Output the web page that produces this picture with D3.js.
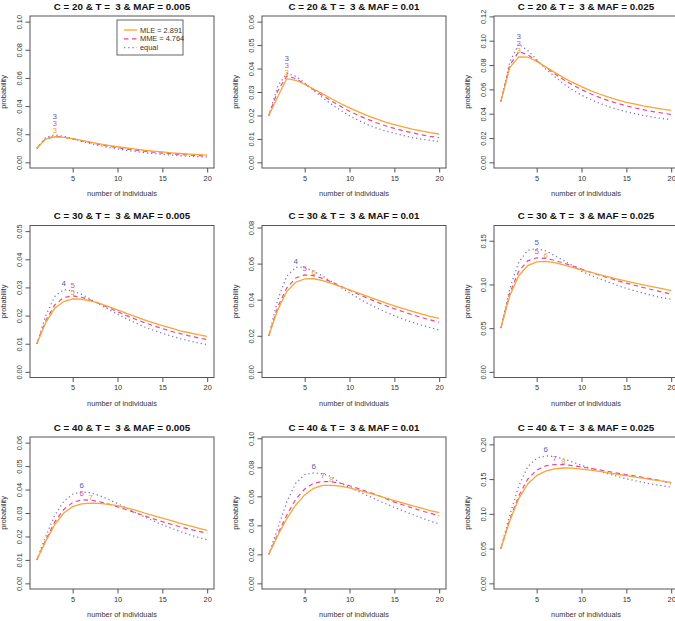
<!DOCTYPE html>
<html>
<head>
<meta charset="utf-8">
<script src="https://cdn.jsdelivr.net/npm/d3@7"></script>
<style>
  html, body { margin: 0; padding: 0; background: #fff; }
  svg { display: block; font-family: "Liberation Sans", Arial, Helvetica, sans-serif; }
  .title { white-space: pre; }
</style>
</head>
<body>
<svg id="chart" width="675" height="621"></svg>
<script>
// ---------------- DATA ----------------
const individuals = [1,2,3,4,5,6,7,8,9,10,11,12,13,14,15,16,17,18,19,20];

const titles = [
  "C = 20 & T =  3 & MAF = 0.005", "C = 20 & T =  3 & MAF = 0.01", "C = 20 & T =  3 & MAF = 0.025",
  "C = 30 & T =  3 & MAF = 0.005", "C = 30 & T =  3 & MAF = 0.01", "C = 30 & T =  3 & MAF = 0.025",
  "C = 40 & T =  3 & MAF = 0.005", "C = 40 & T =  3 & MAF = 0.01", "C = 40 & T =  3 & MAF = 0.025"
];

const yLimits = [0.10, 0.06, 0.1157, 0.05, 0.078, 0.161, 0.06, 0.097, 0.2025];

const yTicks1 = [0, 0.02, 0.04, 0.06, 0.08, 0.10];
const yTicks2 = [0, 0.01, 0.02, 0.03, 0.04, 0.05, 0.06];
const yTicks3 = [0, 0.02, 0.04, 0.06, 0.08, 0.10, 0.12];
const yTicks4 = [0, 0.01, 0.02, 0.03, 0.04, 0.05];
const yTicks5 = [0, 0.02, 0.04, 0.06, 0.08];
const yTicks6 = [0, 0.05, 0.10, 0.15];
const yTicks7 = [0, 0.01, 0.02, 0.03, 0.04, 0.05, 0.06];
const yTicks8 = [0, 0.02, 0.04, 0.06, 0.08, 0.10];
const yTicks9 = [0, 0.05, 0.10, 0.15, 0.20];
const xTicks = [5, 10, 15, 20];

const legendLabels = ["MLE = 2.891", "MME = 4.764", "equal"];

// C = 20, MAF = 0.005
const mle_20_005  = [0.0100,0.0166,0.0182,0.0178,0.0168,0.0156,0.0144,0.0132,0.0121,0.0111,0.0102,0.0094,0.0086,0.0080,0.0074,0.0068,0.0063,0.0059,0.0055,0.0051];
const mme_20_005  = [0.0100,0.0170,0.0185,0.0179,0.0167,0.0153,0.0140,0.0127,0.0115,0.0105,0.0095,0.0087,0.0079,0.0072,0.0066,0.0061,0.0056,0.0052,0.0048,0.0045];
const eq_20_005   = [0.0100,0.0178,0.0196,0.0185,0.0168,0.0150,0.0134,0.0119,0.0106,0.0095,0.0085,0.0077,0.0069,0.0063,0.0057,0.0052,0.0047,0.0043,0.0040,0.0037];
// C = 20, MAF = 0.01
const mle_20_01   = [0.0200,0.0280,0.0357,0.0350,0.0333,0.0313,0.0292,0.0271,0.0251,0.0232,0.0215,0.0199,0.0185,0.0172,0.0161,0.0151,0.0142,0.0134,0.0127,0.0121];
const mme_20_01   = [0.0200,0.0305,0.0368,0.0357,0.0335,0.0310,0.0285,0.0261,0.0239,0.0218,0.0200,0.0184,0.0169,0.0156,0.0145,0.0135,0.0126,0.0118,0.0111,0.0105];
const eq_20_01    = [0.0200,0.0325,0.0380,0.0367,0.0338,0.0306,0.0276,0.0248,0.0222,0.0199,0.0179,0.0161,0.0146,0.0134,0.0124,0.0114,0.0106,0.0099,0.0094,0.0089];
// C = 20, MAF = 0.025
const mle_20_025  = [0.0500,0.0780,0.0868,0.0866,0.0830,0.0785,0.0740,0.0697,0.0657,0.0622,0.0590,0.0562,0.0537,0.0514,0.0494,0.0478,0.0463,0.0450,0.0438,0.0428];
const mme_20_025  = [0.0500,0.0800,0.0910,0.0885,0.0835,0.0780,0.0728,0.0680,0.0636,0.0598,0.0564,0.0534,0.0508,0.0485,0.0465,0.0447,0.0431,0.0417,0.0405,0.0394];
const eq_20_025   = [0.0500,0.0825,0.0972,0.0920,0.0845,0.0770,0.0705,0.0646,0.0596,0.0553,0.0517,0.0486,0.0459,0.0436,0.0416,0.0399,0.0384,0.0371,0.0360,0.0350];
// C = 30, MAF = 0.005
const mle_30_005  = [0.0100,0.0175,0.0226,0.0250,0.0259,0.0258,0.0252,0.0243,0.0232,0.0220,0.0208,0.0196,0.0185,0.0174,0.0164,0.0155,0.0146,0.0139,0.0132,0.0126];
const mme_30_005  = [0.0100,0.0182,0.0238,0.0264,0.0270,0.0265,0.0255,0.0242,0.0228,0.0214,0.0200,0.0187,0.0175,0.0164,0.0154,0.0144,0.0136,0.0128,0.0121,0.0115];
const eq_30_005   = [0.0100,0.0200,0.0268,0.0292,0.0288,0.0275,0.0258,0.0240,0.0222,0.0205,0.0189,0.0174,0.0160,0.0148,0.0137,0.0127,0.0118,0.0110,0.0103,0.0097];
// C = 30, MAF = 0.01
const mle_30_01   = [0.0200,0.0345,0.0445,0.0497,0.0515,0.0516,0.0506,0.0490,0.0472,0.0454,0.0436,0.0418,0.0400,0.0383,0.0366,0.0350,0.0335,0.0321,0.0308,0.0297];
const mme_30_01   = [0.0200,0.0360,0.0465,0.0520,0.0537,0.0533,0.0518,0.0498,0.0476,0.0453,0.0430,0.0408,0.0388,0.0368,0.0350,0.0333,0.0317,0.0302,0.0288,0.0275];
const eq_30_01    = [0.0200,0.0400,0.0530,0.0580,0.0578,0.0558,0.0531,0.0500,0.0469,0.0438,0.0408,0.0380,0.0355,0.0332,0.0311,0.0292,0.0275,0.0259,0.0245,0.0232];
// C = 30, MAF = 0.025
const mle_30_025  = [0.0500,0.0870,0.1100,0.1215,0.1258,0.1265,0.1250,0.1225,0.1196,0.1168,0.1140,0.1113,0.1087,0.1062,0.1038,0.1015,0.0993,0.0972,0.0951,0.0930];
const mme_30_025  = [0.0500,0.0900,0.1150,0.1270,0.1305,0.1298,0.1275,0.1245,0.1212,0.1176,0.1140,0.1107,0.1075,0.1044,0.1015,0.0988,0.0962,0.0937,0.0913,0.0890];
const eq_30_025   = [0.0500,0.0950,0.1255,0.1390,0.1410,0.1385,0.1330,0.1275,0.1215,0.1150,0.1105,0.1065,0.1027,0.0990,0.0955,0.0925,0.0897,0.0870,0.0848,0.0830];
// C = 40, MAF = 0.005
const mle_40_005  = [0.0100,0.0180,0.0250,0.0300,0.0327,0.0339,0.0342,0.0341,0.0337,0.0331,0.0322,0.0312,0.0300,0.0289,0.0278,0.0267,0.0256,0.0246,0.0236,0.0226];
const mme_40_005  = [0.0100,0.0185,0.0262,0.0315,0.0345,0.0356,0.0355,0.0348,0.0338,0.0326,0.0314,0.0301,0.0288,0.0275,0.0263,0.0252,0.0241,0.0231,0.0222,0.0214];
const eq_40_005   = [0.0100,0.0200,0.0290,0.0350,0.0380,0.0390,0.0386,0.0374,0.0358,0.0340,0.0321,0.0302,0.0284,0.0266,0.0250,0.0235,0.0221,0.0208,0.0196,0.0186];
// C = 40, MAF = 0.01
const mle_40_01   = [0.0200,0.0330,0.0445,0.0540,0.0610,0.0655,0.0675,0.0676,0.0670,0.0658,0.0643,0.0626,0.0608,0.0590,0.0571,0.0553,0.0535,0.0518,0.0502,0.0487];
const mme_40_01   = [0.0200,0.0340,0.0470,0.0580,0.0650,0.0690,0.0702,0.0700,0.0690,0.0673,0.0653,0.0632,0.0611,0.0585,0.0560,0.0540,0.0520,0.0501,0.0483,0.0466];
const eq_40_01    = [0.0200,0.0380,0.0560,0.0690,0.0750,0.0762,0.0755,0.0735,0.0690,0.0663,0.0634,0.0605,0.0577,0.0550,0.0524,0.0499,0.0475,0.0452,0.0430,0.0409];
// C = 40, MAF = 0.025
const mle_40_025  = [0.0500,0.0900,0.1220,0.1430,0.1550,0.1615,0.1648,0.1660,0.1658,0.1645,0.1628,0.1610,0.1590,0.1570,0.1550,0.1530,0.1510,0.1490,0.1470,0.1452];
const mme_40_025  = [0.0500,0.0920,0.1260,0.1500,0.1630,0.1690,0.1710,0.1708,0.1695,0.1675,0.1655,0.1633,0.1610,0.1587,0.1563,0.1545,0.1522,0.1499,0.1476,0.1430];
const eq_40_025   = [0.0500,0.0980,0.1400,0.1680,0.1800,0.1835,0.1825,0.1790,0.1745,0.1700,0.1655,0.1612,0.1575,0.1540,0.1505,0.1475,0.1450,0.1425,0.1405,0.1385];

// ---------------- BUILD ----------------
const panels = [
  {mle: mle_20_005, mme: mme_20_005, eq: eq_20_005, ticks: yTicks1},
  {mle: mle_20_01,  mme: mme_20_01,  eq: eq_20_01,  ticks: yTicks2},
  {mle: mle_20_025, mme: mme_20_025, eq: eq_20_025, ticks: yTicks3},
  {mle: mle_30_005, mme: mme_30_005, eq: eq_30_005, ticks: yTicks4},
  {mle: mle_30_01,  mme: mme_30_01,  eq: eq_30_01,  ticks: yTicks5},
  {mle: mle_30_025, mme: mme_30_025, eq: eq_30_025, ticks: yTicks6},
  {mle: mle_40_005, mme: mme_40_005, eq: eq_40_005, ticks: yTicks7},
  {mle: mle_40_01,  mme: mme_40_01,  eq: eq_40_01,  ticks: yTicks8},
  {mle: mle_40_025, mme: mme_40_025, eq: eq_40_025, ticks: yTicks9}
];

const colLeft = [30, 262, 494];
const rowTop = [16, 225.5, 437];
const boxW = 184, boxH = 152;

const COL_MLE = "#F9A531", COL_MME = "#E8479A", COL_EQ = "#7A70D0";
const seriesDefs = [
  {key: "eq",  color: COL_EQ,  dash: "1.2,3",   width: 1.3, label: "#5A56C0"},
  {key: "mme", color: COL_MME, dash: "4.5,3.5", width: 1.2, label: "#E0508F"},
  {key: "mle", color: COL_MLE, dash: null,      width: 1.3, label: "#F0A030"}
];

const svg = d3.select("#chart");
const fmt = d3.format(".2f");
const axisFont = 7.4;

panels.forEach((p, i) => {
  const left = colLeft[i % 3], top = rowTop[Math.floor(i / 3)];
  const right = left + boxW, bottom = top + boxH;
  const ylim = yLimits[i];
  const x = d3.scaleLinear().domain([1 - 0.04 * 19, 20 + 0.04 * 19]).range([left, right]);
  const y = d3.scaleLinear().domain([-0.04 * ylim, ylim * 1.04]).range([bottom, top]);

  const g = svg.append("g");

  const xAxis = d3.axisBottom(x).tickValues(xTicks).tickSize(4.5).tickPadding(3).tickFormat(d3.format("d"));
  const gx = g.append("g").attr("transform", `translate(0,${bottom})`).call(xAxis);
  gx.select(".domain").remove();
  gx.selectAll("line").attr("stroke", "#555");
  gx.selectAll("text").attr("font-size", axisFont).attr("fill", "#333")
    .attr("font-family", "Liberation Sans, Arial, sans-serif");

  const yAxis = d3.axisLeft(y).tickValues(p.ticks).tickSize(4.5).tickFormat(fmt);
  const gy = g.append("g").attr("transform", `translate(${left},0)`).call(yAxis);
  gy.select(".domain").remove();
  gy.selectAll("line").attr("stroke", "#555");
  gy.selectAll("text")
    .attr("font-size", axisFont).attr("fill", "#333")
    .attr("font-family", "Liberation Sans, Arial, sans-serif")
    .attr("x", null).attr("dy", null)
    .attr("text-anchor", "middle")
    .attr("dominant-baseline", "central")
    .attr("transform", "translate(-11,0) rotate(-90)");

  g.append("rect").attr("x", left).attr("y", top).attr("width", boxW).attr("height", boxH)
    .attr("fill", "none").attr("stroke", "#555").attr("stroke-width", 1);

  g.append("text").attr("class", "title").attr("x", (left + right) / 2).attr("y", top - 10)
    .attr("text-anchor", "middle").attr("dominant-baseline", "central")
    .attr("font-weight", "bold").attr("font-size", 9.8).attr("fill", "#111")
    .text(titles[i]);

  g.append("text").attr("x", (left + right) / 2).attr("y", bottom + 25.5)
    .attr("text-anchor", "middle").attr("dominant-baseline", "central")
    .attr("font-size", axisFont).attr("fill", "#333").text("number of individuals");
  g.append("text").attr("transform", `translate(${left - 26.5},${(top + bottom) / 2}) rotate(-90)`)
    .attr("text-anchor", "middle").attr("dominant-baseline", "central")
    .attr("font-size", axisFont).attr("fill", "#333").text("probability");

  const line = d3.line().x((d, j) => x(individuals[j])).y(d => y(d));
  seriesDefs.forEach(s => {
    g.append("path").datum(p[s.key]).attr("d", line)
      .attr("fill", "none").attr("stroke", s.color).attr("stroke-width", s.width)
      .attr("stroke-dasharray", s.dash);
  });

  // peak labels, stacked upward (MLE lowest, then MME, then equal) when they share an x
  const placed = [];
  ["mle", "mme", "eq"].forEach(k => {
    const s = seriesDefs.find(d => d.key === k);
    const vals = p[k];
    const j = d3.maxIndex(vals);
    const px = x(individuals[j]);
    let py = y(vals[j]) - 6;
    placed.forEach(q => {
      if (Math.abs(q.x - px) < 5 && py > q.y - 7) py = q.y - 7;
    });
    placed.push({x: px, y: py});
    g.append("text").attr("x", px).attr("y", py)
      .attr("text-anchor", "middle").attr("dominant-baseline", "central")
      .attr("font-size", 8).attr("fill", s.label).text(individuals[j]);
  });

  if (i === 0) {
    const lx = left + 87, ly = top + 4;
    const lg = g.append("g");
    lg.append("rect").attr("x", lx).attr("y", ly).attr("width", 66).attr("height", 35)
      .attr("fill", "#fff").attr("stroke", "#555").attr("stroke-width", 0.9);
    ["mle", "mme", "eq"].forEach((k, r) => {
      const s = seriesDefs.find(d => d.key === k);
      const yy = ly + 10 + r * 8.8;
      lg.append("line").attr("x1", lx + 7).attr("x2", lx + 20).attr("y1", yy).attr("y2", yy)
        .attr("stroke", s.color).attr("stroke-width", s.width).attr("stroke-dasharray", s.dash);
      lg.append("text").attr("x", lx + 23).attr("y", yy).attr("dominant-baseline", "central")
        .attr("font-size", axisFont).attr("fill", "#333").text(legendLabels[r]);
    });
  }
});
</script>
</body>
</html>
